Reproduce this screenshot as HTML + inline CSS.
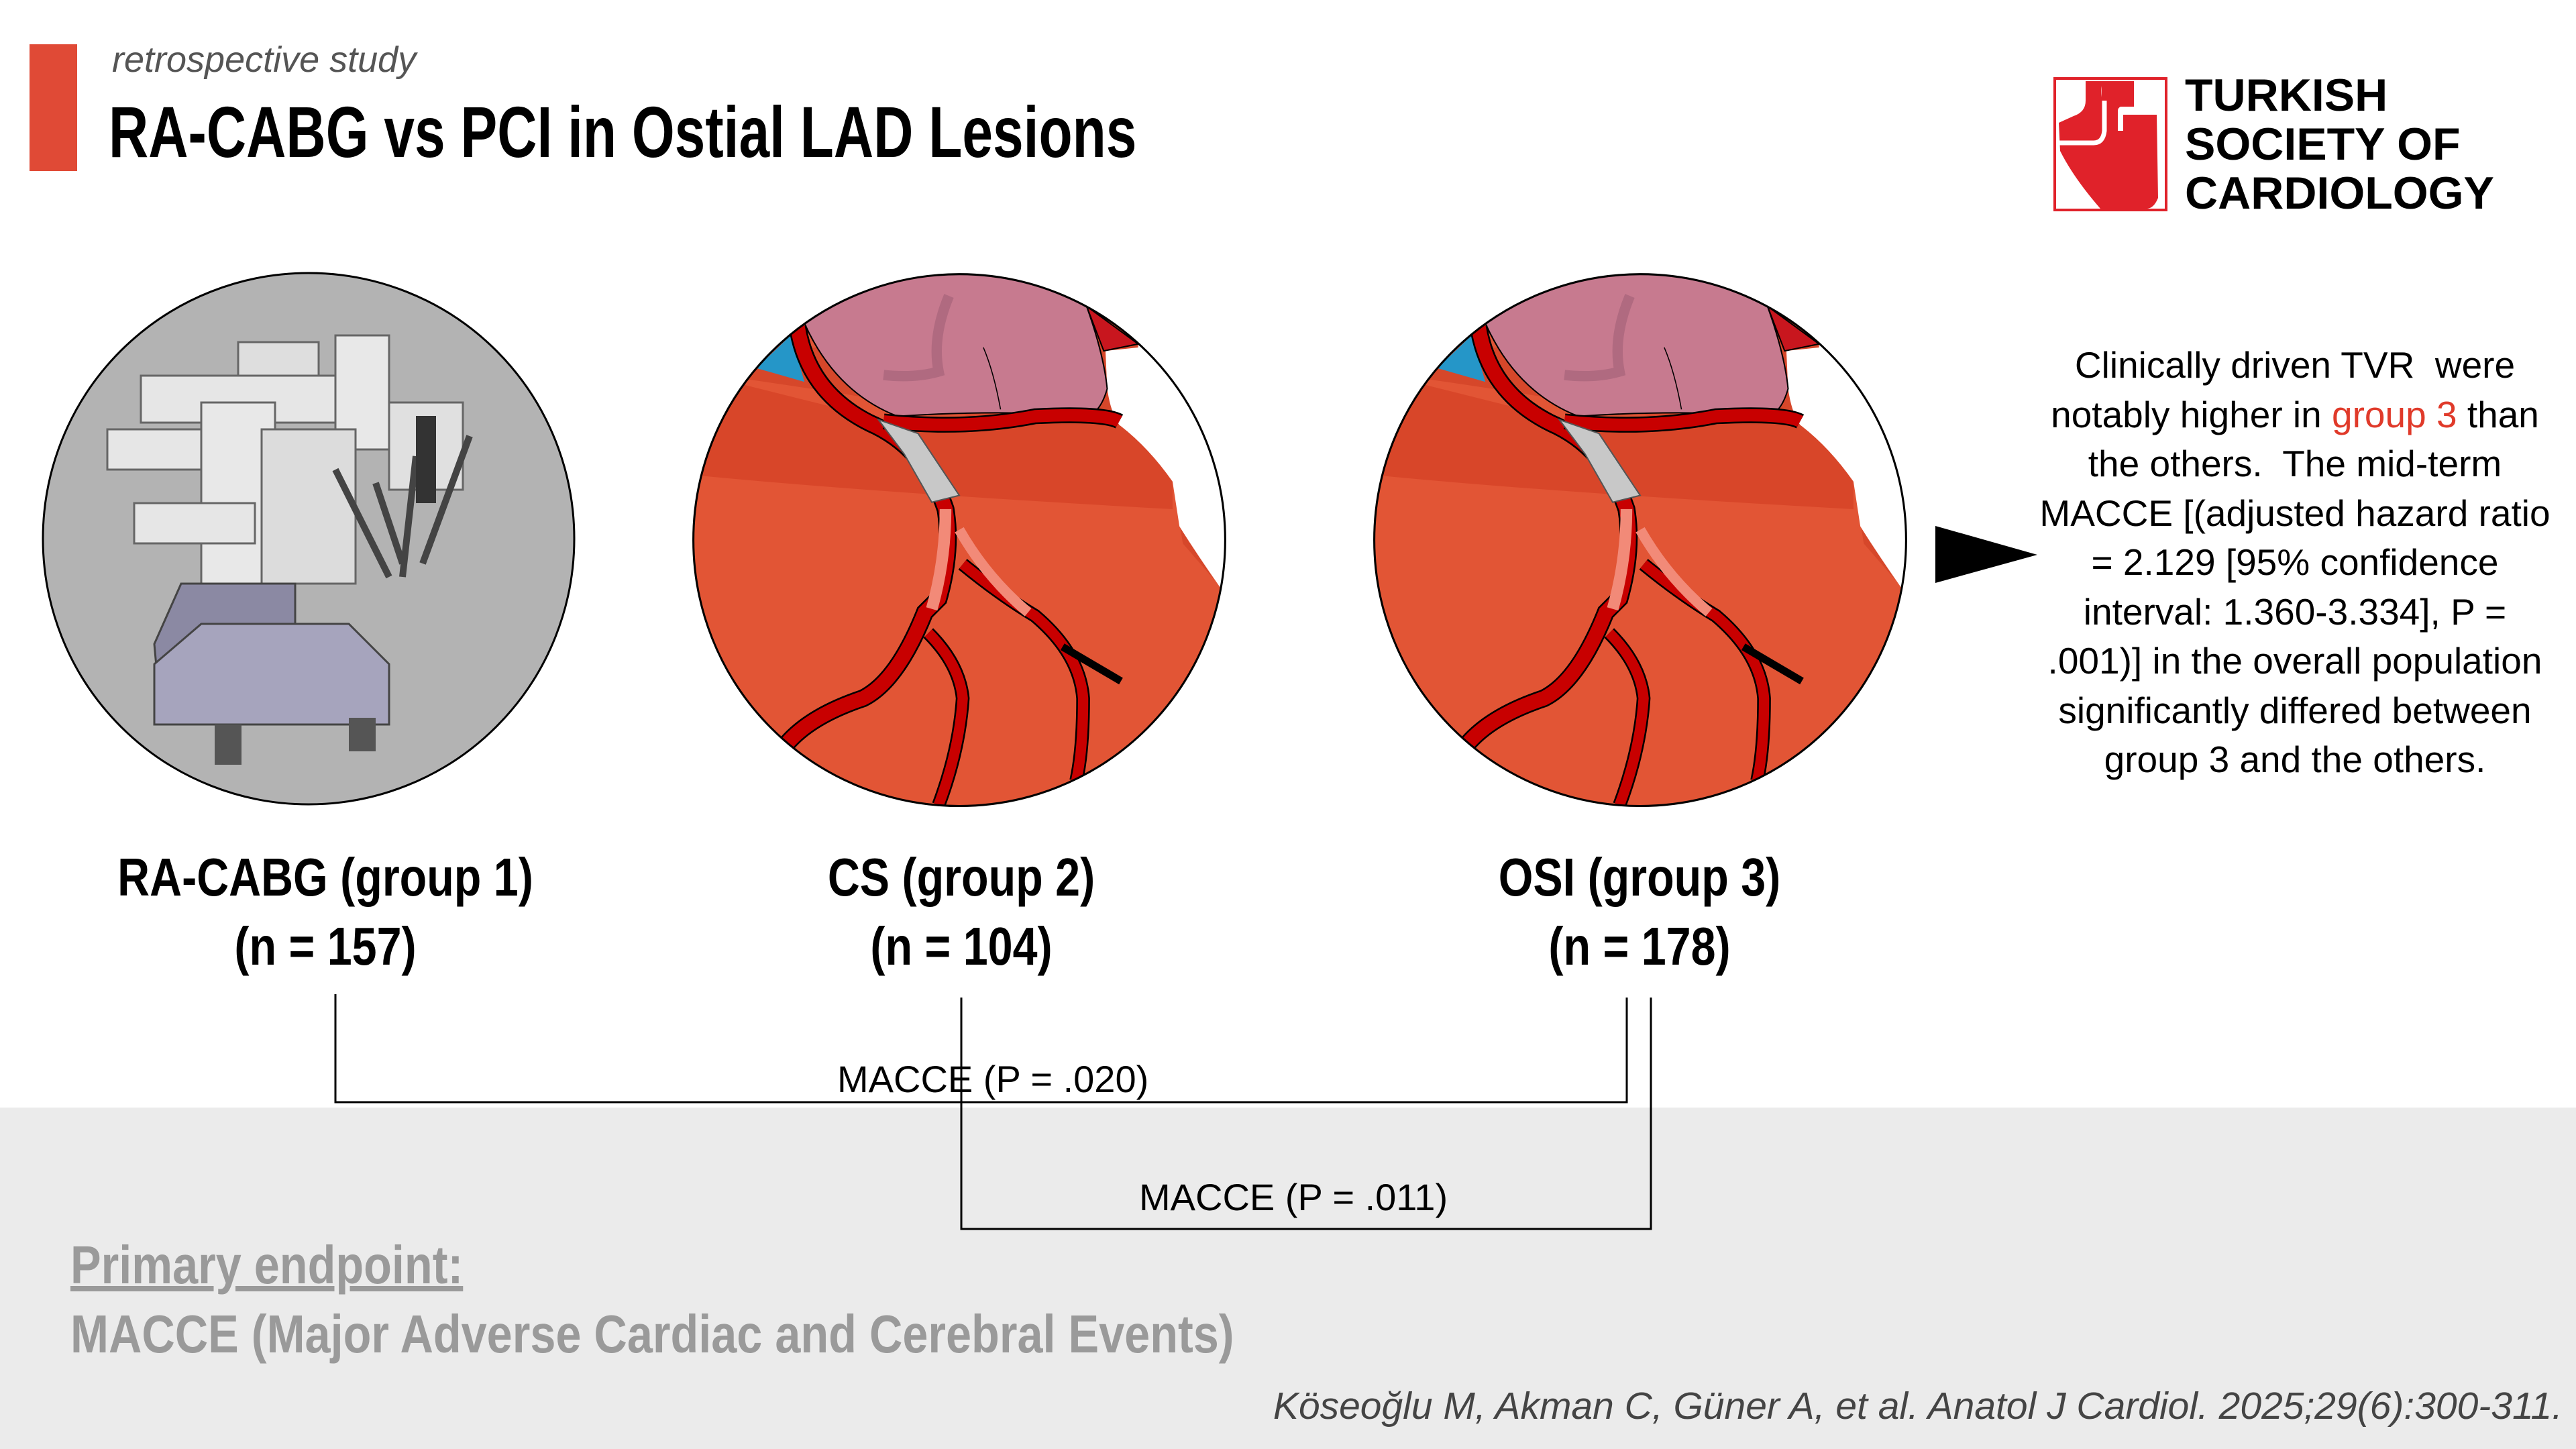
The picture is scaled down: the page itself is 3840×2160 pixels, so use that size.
<!DOCTYPE html>
<html><head><meta charset="utf-8">
<style>
html,body{margin:0;padding:0}
body{width:3840px;height:2160px;position:relative;overflow:hidden;background:#fff;font-family:"Liberation Sans",sans-serif}
.abs{position:absolute;white-space:nowrap}
.narrow{font-family:"Liberation Sans",sans-serif;font-weight:bold}
.lbl{font-size:80px;text-align:center;width:900px;color:#000;transform:scaleX(0.83);transform-origin:50% 50%}
.logo{font-size:68px;font-weight:bold;color:#000;line-height:73px}
.rt{font-size:55px;line-height:73.5px;text-align:center;color:#000}
</style></head><body>
<div class="abs" style="left:0;top:1651px;width:3840px;height:509px;background:#ebebeb"></div>
<div class="abs" style="left:44px;top:66px;width:71px;height:189px;background:#e04a36"></div>
<div class="abs" style="left:167px;top:58px;font-size:54px;font-style:italic;color:#555">retrospective study</div>
<div class="abs narrow" style="left:162px;top:134px;font-size:108px;color:#000;transform:scaleX(0.76);transform-origin:0 0">RA-CABG vs PCI in Ostial LAD Lesions</div>

<svg class="abs" style="left:3061px;top:115px" width="170" height="200" viewBox="0 0 170 200">
<rect x="2" y="2" width="166" height="196" fill="none" stroke="#e0222a" stroke-width="4"/>
<path d="M8 68 L30 58 Q48 52 48 35 V6 H75 Q70 12 72 30 V6 H120 V44 L100 44 Q96 46 96 50 V80 H104 V56 H154 L156 180 Q150 195 140 196 H70 Q30 150 10 110 Z" fill="#e0222a"/>
<path d="M8 98 H60 Q74 98 76 80 V35" fill="none" stroke="#fff" stroke-width="7"/>
</svg>
<div class="abs logo" style="left:3257px;top:106px">TURKISH<br>SOCIETY OF<br>CARDIOLOGY</div>

<svg class="abs" style="left:0;top:0" width="3840" height="2160">
<defs>
<clipPath id="c1"><circle cx="460" cy="803" r="396"/></clipPath>
<g id="heart">
<rect x="0" y="0" width="1560" height="1570" fill="#e25535"/>
<path d="M0 300 Q600 380 1000 470 L1245 455 L1330 520 L1400 620 L1430 800 L1560 950 L1560 0 Z" fill="#d6472a"/>
<path d="M0 600 Q500 650 1400 700 L1400 620 L1330 520 L1245 455 L600 450 L0 300Z" fill="#d84629"/>
<path d="M1245 455 Q1330 520 1400 620 L1420 750 Q1470 830 1540 930 L1600 930 L1600 0 L1300 0 L1300 230 L1205 240 L1210 350 Q1220 420 1245 455 Z" fill="#fff"/>
<path d="M1150 110 L1300 220 L1200 240 Z" fill="#c8161e" stroke="#000" stroke-width="4"/>
<path d="M330 160 L300 0 L1150 0 L1150 110 Q1200 250 1210 350 Q1190 420 1150 430 Q900 410 600 430 Q420 360 330 160Z" fill="#c77a8f" stroke="#000" stroke-width="4"/>
<path d="M750 80 Q700 200 720 300 Q650 320 560 310" fill="none" stroke="#b06a80" stroke-width="30"/>
<path d="M900 410 Q880 300 850 230" fill="none" stroke="#000" stroke-width="3"/>
<path d="M190 290 L290 195 L330 330 Z" fill="#2596c8"/>
<path d="M310 170 Q340 360 520 450 Q680 520 740 700 Q760 820 720 960 L680 1000 Q600 1200 500 1250 Q350 1300 280 1380" fill="none" stroke="#000" stroke-width="52"/>
<path d="M310 170 Q340 360 520 450 Q680 520 740 700 Q760 820 720 960 L680 1000 Q600 1200 500 1250 Q350 1300 280 1380" fill="none" stroke="#c80000" stroke-width="42"/>
<path d="M560 445 Q800 470 1000 430 Q1200 420 1245 445" fill="none" stroke="#000" stroke-width="46"/>
<path d="M560 445 Q800 470 1000 430 Q1200 420 1245 445" fill="none" stroke="#c80000" stroke-width="36"/>
<path d="M690 1060 Q780 1150 790 1250 Q780 1400 720 1560" fill="none" stroke="#000" stroke-width="40"/>
<path d="M690 1060 Q780 1150 790 1250 Q780 1400 720 1560" fill="none" stroke="#c80000" stroke-width="30"/>
<path d="M790 860 Q900 950 1000 1010 Q1130 1120 1140 1250 Q1140 1400 1120 1490" fill="none" stroke="#000" stroke-width="40"/>
<path d="M790 860 Q900 950 1000 1010 Q1130 1120 1140 1250 Q1140 1400 1120 1490" fill="none" stroke="#c80000" stroke-width="30"/>
<path d="M1080 1100 L1250 1200" stroke="#000" stroke-width="22"/>
<path d="M740 700 Q740 850 700 990" fill="none" stroke="#f28a78" stroke-width="34"/>
<path d="M780 760 Q860 900 980 1000" fill="none" stroke="#f28a78" stroke-width="30"/>
<path d="M545 440 L660 480 L780 660 L700 680 L620 540 Z" fill="#c8c8c8" stroke="#555" stroke-width="4"/>
</g>
<clipPath id="hc"><circle cx="780" cy="790" r="773"/></clipPath>
</defs>
<circle cx="460" cy="803" r="396" fill="#b3b3b3" stroke="#000" stroke-width="3"/>
<g clip-path="url(#c1)">
<rect x="355" y="510" width="120" height="60" fill="#dedede" stroke="#666" stroke-width="3"/>
<rect x="210" y="560" width="300" height="70" fill="#e6e6e6" stroke="#666" stroke-width="3"/>
<rect x="160" y="640" width="180" height="60" fill="#e6e6e6" stroke="#666" stroke-width="3"/>
<rect x="300" y="600" width="110" height="280" fill="#e8e8e8" stroke="#666" stroke-width="3"/>
<rect x="500" y="500" width="80" height="170" fill="#e8e8e8" stroke="#666" stroke-width="3"/>
<rect x="390" y="640" width="140" height="230" fill="#dcdcdc" stroke="#666" stroke-width="3"/>
<rect x="200" y="750" width="180" height="60" fill="#e6e6e6" stroke="#666" stroke-width="3"/>
<rect x="580" y="600" width="110" height="130" fill="#e0e0e0" stroke="#666" stroke-width="3"/>
<path d="M500 700 L580 860 M560 720 L600 840 M620 680 L600 860 M700 650 L630 840" stroke="#444" stroke-width="10"/>
<rect x="620" y="620" width="30" height="130" fill="#333"/>
<path d="M270 870 H440 V930 L560 1000 V1070 H240 L230 960 Z" fill="#8b89a3" stroke="#444" stroke-width="3"/>
<path d="M300 930 H520 L580 990 V1080 H230 V990 Z" fill="#a6a4bd" stroke="#444" stroke-width="3"/>
<rect x="320" y="1080" width="40" height="60" fill="#555"/>
<rect x="520" y="1070" width="40" height="50" fill="#555"/>
</g>
<g transform="translate(1030,400) scale(0.5128)">
<g clip-path="url(#hc)"><use href="#heart"/></g>
<circle cx="780" cy="790" r="773" fill="none" stroke="#000" stroke-width="6"/>
</g>
<g transform="translate(2045,400) scale(0.5128)">
<g clip-path="url(#hc)"><use href="#heart"/></g>
<circle cx="780" cy="790" r="773" fill="none" stroke="#000" stroke-width="6"/>
</g>
<g stroke="#000" stroke-width="3" fill="none">
<path d="M500 1482 V1643 H2425 V1487"/>
<path d="M1433 1487 V1832 H2461 V1487"/>
</g>
<polygon points="2885,784 3037,827 2885,869" fill="#000"/>
</svg>

<div class="abs narrow lbl" style="left:35px;top:1262px">RA-CABG (group 1)</div>
<div class="abs narrow lbl" style="left:35px;top:1365px">(n = 157)</div>
<div class="abs narrow lbl" style="left:983px;top:1262px">CS (group 2)</div>
<div class="abs narrow lbl" style="left:983px;top:1365px">(n = 104)</div>
<div class="abs narrow lbl" style="left:1994px;top:1262px">OSI (group 3)</div>
<div class="abs narrow lbl" style="left:1994px;top:1365px">(n = 178)</div>

<div class="abs" style="left:1248px;top:1576px;font-size:56px">MACCE (P = .020)</div>
<div class="abs" style="left:1698px;top:1752px;font-size:56px">MACCE (P = .011)</div>

<div class="abs rt" style="left:3021px;top:508px;width:800px">Clinically driven TVR&nbsp; were<br>notably higher in <span style="color:#e03a2a">group 3</span> than<br>the others.&nbsp; The mid-term<br>MACCE [(adjusted hazard ratio<br>= 2.129 [95% confidence<br>interval: 1.360-3.334], P =<br>.001)] in the overall population<br>significantly differed between<br>group 3 and the others.</div>

<div class="abs narrow" style="left:105px;top:1840px;font-size:80px;color:#9a9a9a;text-decoration:underline;transform:scaleX(0.855);transform-origin:0 0">Primary endpoint:</div>
<div class="abs narrow" style="left:105px;top:1943px;font-size:80px;color:#9a9a9a;transform:scaleX(0.855);transform-origin:0 0">MACCE (Major Adverse Cardiac and Cerebral Events)</div>
<div class="abs" style="right:20px;top:2063px;font-size:57px;font-style:italic;color:#444">Köseoğlu M, Akman C, Güner A, et al. Anatol J Cardiol. 2025;29(6):300-311.</div>
</body></html>
